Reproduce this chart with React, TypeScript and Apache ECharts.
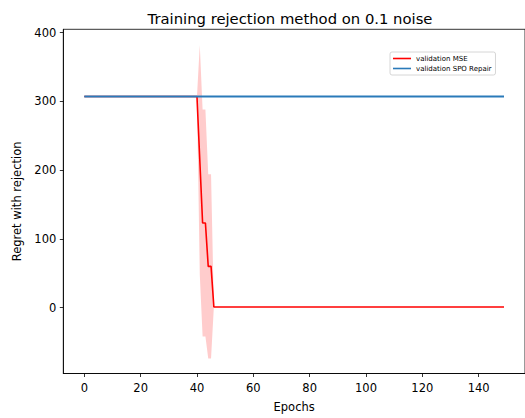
import React, { useEffect, useRef } from "react";
import * as echarts from "echarts";

const titleText = "Training rejection method on 0.1 noise";
const xLabel = "Epochs";
const yLabel = "Regret with rejection";
const seriesNames = ["validation MSE", "validation SPO Repair"];
const xTicks = [0, 20, 40, 60, 80, 100, 120, 140];
const yTicks = [0, 100, 200, 300, 400];

const mseMean = [
  307, 307, 307, 307, 307, 307, 307, 307, 307, 307,
  307, 307, 307, 307, 307, 307, 307, 307, 307, 307,
  307, 307, 307, 307, 307, 307, 307, 307, 307, 307,
  307, 307, 307, 307, 307, 307, 307, 307, 307, 307,
  307, 215, 123, 123, 60, 60, 1, 1, 1, 1,
  1, 1, 1, 1, 1, 1, 1, 1, 1, 1,
  1, 1, 1, 1, 1, 1, 1, 1, 1, 1,
  1, 1, 1, 1, 1, 1, 1, 1, 1, 1,
  1, 1, 1, 1, 1, 1, 1, 1, 1, 1,
  1, 1, 1, 1, 1, 1, 1, 1, 1, 1,
  1, 1, 1, 1, 1, 1, 1, 1, 1, 1,
  1, 1, 1, 1, 1, 1, 1, 1, 1, 1,
  1, 1, 1, 1, 1, 1, 1, 1, 1, 1,
  1, 1, 1, 1, 1, 1, 1, 1, 1, 1,
  1, 1, 1, 1, 1, 1, 1, 1, 1, 1,
];

const mseUpper = [
  307, 307, 307, 307, 307, 307, 307, 307, 307, 307,
  307, 307, 307, 307, 307, 307, 307, 307, 307, 307,
  307, 307, 307, 307, 307, 307, 307, 307, 307, 307,
  307, 307, 307, 307, 307, 307, 307, 307, 307, 307,
  307, 382, 288, 288, 194, 194, 1, 1, 1, 1,
  1, 1, 1, 1, 1, 1, 1, 1, 1, 1,
  1, 1, 1, 1, 1, 1, 1, 1, 1, 1,
  1, 1, 1, 1, 1, 1, 1, 1, 1, 1,
  1, 1, 1, 1, 1, 1, 1, 1, 1, 1,
  1, 1, 1, 1, 1, 1, 1, 1, 1, 1,
  1, 1, 1, 1, 1, 1, 1, 1, 1, 1,
  1, 1, 1, 1, 1, 1, 1, 1, 1, 1,
  1, 1, 1, 1, 1, 1, 1, 1, 1, 1,
  1, 1, 1, 1, 1, 1, 1, 1, 1, 1,
  1, 1, 1, 1, 1, 1, 1, 1, 1, 1,
];

const mseLower = [
  307, 307, 307, 307, 307, 307, 307, 307, 307, 307,
  307, 307, 307, 307, 307, 307, 307, 307, 307, 307,
  307, 307, 307, 307, 307, 307, 307, 307, 307, 307,
  307, 307, 307, 307, 307, 307, 307, 307, 307, 307,
  307, 48, -42, -42, -74, -74, 1, 1, 1, 1,
  1, 1, 1, 1, 1, 1, 1, 1, 1, 1,
  1, 1, 1, 1, 1, 1, 1, 1, 1, 1,
  1, 1, 1, 1, 1, 1, 1, 1, 1, 1,
  1, 1, 1, 1, 1, 1, 1, 1, 1, 1,
  1, 1, 1, 1, 1, 1, 1, 1, 1, 1,
  1, 1, 1, 1, 1, 1, 1, 1, 1, 1,
  1, 1, 1, 1, 1, 1, 1, 1, 1, 1,
  1, 1, 1, 1, 1, 1, 1, 1, 1, 1,
  1, 1, 1, 1, 1, 1, 1, 1, 1, 1,
  1, 1, 1, 1, 1, 1, 1, 1, 1, 1,
];

const spoMean = [
  307, 307, 307, 307, 307, 307, 307, 307, 307, 307,
  307, 307, 307, 307, 307, 307, 307, 307, 307, 307,
  307, 307, 307, 307, 307, 307, 307, 307, 307, 307,
  307, 307, 307, 307, 307, 307, 307, 307, 307, 307,
  307, 307, 307, 307, 307, 307, 307, 307, 307, 307,
  307, 307, 307, 307, 307, 307, 307, 307, 307, 307,
  307, 307, 307, 307, 307, 307, 307, 307, 307, 307,
  307, 307, 307, 307, 307, 307, 307, 307, 307, 307,
  307, 307, 307, 307, 307, 307, 307, 307, 307, 307,
  307, 307, 307, 307, 307, 307, 307, 307, 307, 307,
  307, 307, 307, 307, 307, 307, 307, 307, 307, 307,
  307, 307, 307, 307, 307, 307, 307, 307, 307, 307,
  307, 307, 307, 307, 307, 307, 307, 307, 307, 307,
  307, 307, 307, 307, 307, 307, 307, 307, 307, 307,
  307, 307, 307, 307, 307, 307, 307, 307, 307, 307,
];

const FONT = "DejaVu Sans";

export default function App() {
  const ref = useRef<HTMLDivElement>(null);
  useEffect(() => {
    if (!ref.current) return;
    const chart = echarts.init(ref.current, null, { renderer: "svg" });
    const epochs = mseMean.map((_, i) => i);
    const option: any = {
      animation: false,
      backgroundColor: "#fff",
      title: {
        text: titleText,
        left: 285,
        top: 6,
        textAlign: "center",
        textStyle: { fontFamily: FONT, fontSize: 14.8, fontWeight: "normal", color: "#000" },
      },
      legend: {
        orient: "vertical",
        left: 390,
        top: 52,
        padding: [3, 4, 3, 3],
        itemGap: 3,
        itemWidth: 18,
        itemHeight: 1.6,
        icon: "rect",
        borderColor: "#cccccc",
        borderWidth: 0.8,
        borderRadius: 2,
        backgroundColor: "rgba(255,255,255,0.8)",
        textStyle: { fontFamily: FONT, fontSize: 7, color: "#000" },
        data: seriesNames,
      },
      grid: {
        left: 63.3,
        top: 29.3,
        width: 466.3,
        height: 346.7,
        show: true,
        borderColor: "#000",
        borderWidth: 0.8,
        backgroundColor: "transparent",
      },
      xAxis: {
        type: "value",
        min: -7.45,
        max: 156.45,
        name: xLabel,
        nameLocation: "middle",
        nameGap: 27.5,
        nameTextStyle: { fontFamily: FONT, fontSize: 11.5, color: "#000" },
        axisLine: { show: true, onZero: false, lineStyle: { color: "#000", width: 0.8 } },
        axisTick: { show: true, inside: false, length: 3.5, customValues: xTicks, lineStyle: { color: "#000", width: 0.8 } },
        axisLabel: { customValues: xTicks, margin: 8.5, fontFamily: FONT, fontSize: 11.5, color: "#000" },
        splitLine: { show: false },
      },
      yAxis: {
        type: "value",
        min: -95.75,
        max: 404.75,
        name: yLabel,
        nameLocation: "middle",
        nameGap: 40,
        nameRotate: 90,
        nameTextStyle: { fontFamily: FONT, fontSize: 11.5, color: "#000" },
        axisLine: { show: true, onZero: false, lineStyle: { color: "#000", width: 0.8 } },
        axisTick: { show: true, inside: false, length: 3.5, customValues: yTicks, lineStyle: { color: "#000", width: 0.8 } },
        axisLabel: { customValues: yTicks, margin: 7, fontFamily: FONT, fontSize: 11.5, color: "#000" },
        splitLine: { show: false },
      },
      series: [
        {
          type: "custom",
          name: "band",
          silent: true,
          z: 1,
          data: [[0, mseMean[0]]],
          encode: { x: 0, y: 1 },
          renderItem: (params: any, api: any) => {
            if (params.dataIndex !== 0) return null;
            const pts: number[][] = [];
            for (let i = 0; i < epochs.length; i++) pts.push(api.coord([epochs[i], mseUpper[i]]));
            for (let i = epochs.length - 1; i >= 0; i--) pts.push(api.coord([epochs[i], mseLower[i]]));
            return {
              type: "polygon",
              shape: { points: pts },
              style: { fill: "rgba(255,0,0,0.2)", stroke: "none" },
            };
          },
        },
        {
          type: "line",
          name: seriesNames[0],
          z: 3,
          showSymbol: false,
          symbol: "none",
          color: "#ff0000",
          lineStyle: { color: "#ff0000", width: 1.6 },
          data: epochs.map((e, i) => [e, mseMean[i]]),
        },
        {
          type: "line",
          name: seriesNames[1],
          z: 4,
          showSymbol: false,
          symbol: "none",
          color: "#2a7ab9",
          lineStyle: { color: "#2a7ab9", width: 1.8 },
          data: epochs.map((e, i) => [e, spoMean[i]]),
        },
      ],
    };
    chart.setOption(option);
    return () => chart.dispose();
  }, []);
  return (
    <div
      ref={ref}
      style={{ position: "fixed", left: 0, top: 0, width: 525, height: 418 }}
    />
  );
}
